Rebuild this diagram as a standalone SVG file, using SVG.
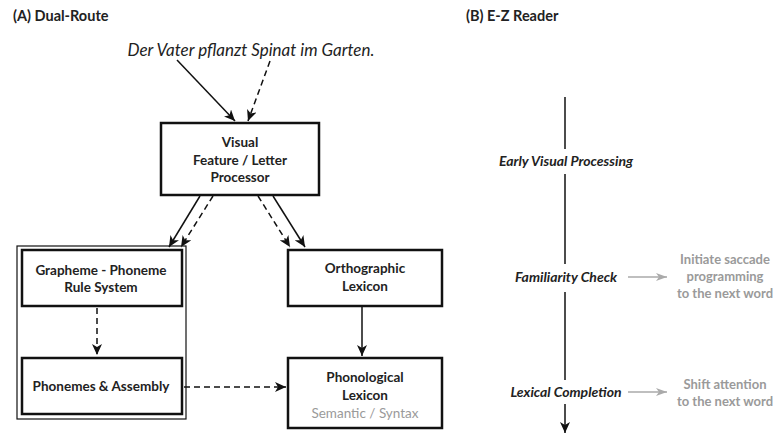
<svg xmlns="http://www.w3.org/2000/svg" width="776" height="435" viewBox="0 0 776 435">
<style>
text{font-family:Lato,"Open Sans","Liberation Sans",sans-serif;fill:#222}
.t{font-size:14.5px;font-weight:bold}
.b{font-size:13.5px;font-weight:bold;text-anchor:middle}
.s{font-size:13px}
.g{fill:#9a9a9a}
.i{font-style:italic;font-size:14px}
.box{fill:#fff;stroke:#111;stroke-width:2.5}
.frame{fill:none;stroke:#111;stroke-width:1.2}
.c{fill:none;stroke:#111;stroke-width:1.5}
.d{stroke-dasharray:6 4}
.gr{fill:none;stroke:#aaa;stroke-width:1.5}
</style>
<defs>
<marker id="a" markerWidth="12" markerHeight="10" refX="11" refY="5" orient="auto" markerUnits="userSpaceOnUse">
<path d="M0,0 L11,5 L0,10 L3,5 Z" fill="#111"/>
</marker>
<marker id="ag" markerWidth="12" markerHeight="10" refX="11" refY="5" orient="auto" markerUnits="userSpaceOnUse">
<path d="M0,1 L11,5 L0,9 L3,5 Z" fill="#aaa"/>
</marker>
</defs>
<text class="t" x="13" y="21">(A) Dual-Route</text>
<text class="t" x="466" y="21">(B)  E-Z Reader</text>
<text x="251" y="56" font-size="17" font-style="italic" text-anchor="middle">Der Vater pflanzt Spinat im Garten.</text>

<g id="connectors">
<line class="c" x1="177" y1="60" x2="235" y2="121" marker-end="url(#a)"/>
<line class="c d" x1="270" y1="61" x2="248" y2="121" marker-end="url(#a)"/>
<line class="c" x1="200" y1="196" x2="169" y2="247" marker-end="url(#a)"/>
<line class="c d" x1="213" y1="196" x2="181" y2="247" marker-end="url(#a)"/>
<line class="c d" x1="258" y1="196" x2="290" y2="247" marker-end="url(#a)"/>
<line class="c" x1="273" y1="196" x2="305" y2="247" marker-end="url(#a)"/>
<line class="c d" x1="97" y1="308" x2="97" y2="355" marker-end="url(#a)"/>
<line class="c d" x1="184" y1="387" x2="286" y2="387" marker-end="url(#a)"/>
<line class="c" x1="362" y1="307" x2="362" y2="356" marker-end="url(#a)"/>
<line class="c" x1="565" y1="97" x2="565" y2="149"/>
<line class="c" x1="565" y1="174" x2="565" y2="264"/>
<line class="c" x1="565" y1="292" x2="565" y2="380"/>
<line class="c" x1="565" y1="404" x2="565" y2="433" marker-end="url(#a)"/>
<line class="gr" x1="628" y1="277" x2="667" y2="277" marker-end="url(#ag)"/>
<line class="gr" x1="628" y1="392" x2="667" y2="392" marker-end="url(#ag)"/>
</g>

<g id="visual">
<rect class="box" x="161" y="123" width="158" height="72"/>
<text class="b" x="240" y="147">Visual</text>
<text class="b" x="240" y="165">Feature / Letter</text>
<text class="b" x="240" y="182">Processor</text>
</g>
<g id="frame">
<rect class="frame" x="17" y="246" width="169" height="173"/>
</g>
<g id="grapheme">
<rect class="box" x="22" y="250" width="160" height="56"/>
<text class="b" x="101" y="275">Grapheme - Phoneme</text>
<text class="b" x="101" y="292">Rule System</text>
</g>
<g id="phonemes">
<rect class="box" x="22" y="358" width="160" height="56"/>
<text class="b" x="101" y="391">Phonemes &amp; Assembly</text>
</g>
<g id="orthographic">
<rect class="box" x="288" y="250" width="154" height="56"/>
<text class="b" x="365" y="273">Orthographic</text>
<text class="b" x="365" y="291">Lexicon</text>
</g>
<g id="phonological">
<rect class="box" x="288" y="358" width="154" height="70"/>
<text class="b" x="365" y="382">Phonological</text>
<text class="b" x="365" y="400">Lexicon</text>
<text class="b g" x="365" y="418" style="font-weight:normal">Semantic / Syntax</text>
</g>
<g id="early">
<text class="b i" x="566" y="166">Early Visual Processing</text>
</g>
<g id="familiarity">
<text class="b i" x="566" y="282">Familiarity Check</text>
</g>
<g id="lexical">
<text class="b i" x="566" y="397">Lexical Completion</text>
</g>
<g id="saccade">
<text class="b g s" x="725" y="264">Initiate saccade</text>
<text class="b g s" x="725" y="281">programming</text>
<text class="b g s" x="725" y="298">to the next word</text>
</g>
<g id="shift">
<text class="b g s" x="725" y="389">Shift attention</text>
<text class="b g s" x="725" y="406">to the next word</text>
</g>
</svg>
